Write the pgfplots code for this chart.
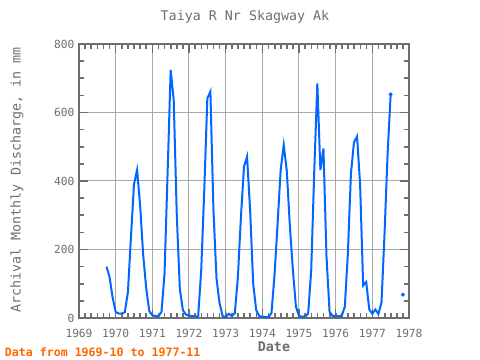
\documentclass[border=0pt]{standalone}
\usepackage{pgfplots}
\pgfplotsset{compat=1.18}
\usepackage{fontspec}
\setmainfont{DejaVu Sans Mono}
\definecolor{fr}{RGB}{110,110,110}
\definecolor{gr}{RGB}{170,170,170}
\definecolor{ln}{RGB}{0,102,255}
\definecolor{nt}{RGB}{255,102,0}
\begin{document}
\begin{tikzpicture}
\path[use as bounding box] (0,0) rectangle (360pt,270pt);
\begin{axis}[
  at={(59.25pt,31.5pt)}, anchor=south west,
  scale only axis, width=247.5pt, height=205.5pt,
  xmin=1969, xmax=1978, ymin=0, ymax=800,
  xtick={1969,1970,...,1978},
  minor xtick={1969,1969.1666667,...,1978},
  ytick={0,200,...,800},
  minor ytick={0,50,...,800},
  xticklabel style={/pgf/number format/1000 sep={}, yshift=-4.5pt},
  /pgf/number format/assume math mode=true,
  grid=major, major grid style={gr, line width=0.75pt},
  minor grid style={draw=none},
  axis line style={fr, line width=1.5pt},
  tick style={draw=fr, line width=1.2pt},
  minor tick style={draw=fr, line width=1.2pt},
  major tick length=6.75pt, minor tick length=3.4pt,
  tick align=inside,
  xtick pos=both, ytick pos=both,
  tick label style={text=fr, font=\fontsize{8.4}{10}\selectfont},
  clip=false,
]
\addplot[ln, line width=1.5pt] table {
1969.75 150
1969.8333 120
1969.9167 60
1970.0 18
1970.0833 13
1970.1667 13
1970.25 17
1970.3333 75
1970.4167 235
1970.5 390
1970.5833 432
1970.6667 330
1970.75 185
1970.8333 87
1970.9167 20
1971.0 8
1971.0833 6
1971.1667 5
1971.25 18
1971.3333 130
1971.4167 425
1971.5 724
1971.5833 636
1971.6667 300
1971.75 85
1971.8333 23
1971.9167 10
1972.0 7
1972.0833 6
1972.1667 4
1972.25 5
1972.3333 140
1972.4167 374
1972.5 641
1972.5833 661
1972.6667 315
1972.75 116
1972.8333 43
1972.9167 6
1973.0 2
1973.0833 12
1973.1667 6
1973.25 14
1973.3333 119
1973.4167 296
1973.5 442
1973.5833 471
1973.6667 315
1973.75 101
1973.8333 23
1973.9167 5
1974.0 4
1974.0833 3
1974.1667 2
1974.25 15
1974.3333 127
1974.4167 276
1974.5 432
1974.5833 505
1974.6667 430
1974.75 271
1974.8333 140
1974.9167 33
1975.0 6
1975.0833 4
1975.1667 4
1975.25 13
1975.3333 140
1975.4167 430
1975.5 685
1975.5833 432
1975.6667 495
1975.75 180
1975.8333 18
1975.9167 6
1976.0 6
1976.0833 5
1976.1667 7
1976.25 33
1976.3333 189
1976.4167 422
1976.5 513
1976.5833 530
1976.6667 390
1976.75 95
1976.8333 105
1976.9167 25
1977.0 12
1977.0833 25
1977.1667 12
1977.25 45
1977.3333 247
1977.4167 480
1977.5 653
};
\addplot[ln, only marks, mark=*, mark size=1.3pt] coordinates {(1977.5,653) (1977.8333,68)};
\end{axis}
\node[text=fr, font=\fontsize{10}{12}\selectfont] at (183.75pt,257.25pt) {Taiya R Nr Skagway Ak};
\node[text=fr, font=\fontsize{10}{12}\selectfont\bfseries] at (205.5pt,9.75pt) {Date};
\node[text=fr, font=\fontsize{10}{12}\selectfont, rotate=90] at (12.75pt,135pt) {Archival Monthly Discharge, in mm};
\node[text=nt, font=\fontsize{8.7}{10}\selectfont\bfseries, anchor=west, inner sep=0pt] at (3.5pt,6pt) {Data from 1969-10 to 1977-11};
\end{tikzpicture}
\end{document}
